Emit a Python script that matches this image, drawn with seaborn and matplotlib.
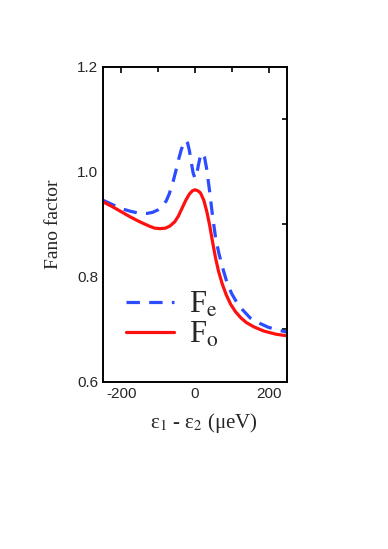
import matplotlib
matplotlib.use("Agg")
import matplotlib.pyplot as plt
import numpy as np
import pandas as pd
import seaborn as sns

# detuning eps1 - eps2 (ueV) and Fano factors
x_fo = [-250, -225, -200, -175, -150, -125, -110, -95, -80, -68, -55, -45, -35, -25,
        -15, -7, 0, 8, 15, 24, 32, 40, 48, 56, 64, 74, 85, 97, 110, 125, 140, 160,
        187, 220, 250]
f_o = [0.943, 0.934, 0.924, 0.914, 0.905, 0.897, 0.893, 0.892, 0.893, 0.897, 0.905,
       0.916, 0.931, 0.946, 0.958, 0.964, 0.966, 0.964, 0.960, 0.946, 0.925, 0.898,
       0.866, 0.836, 0.811, 0.787, 0.766, 0.748, 0.734, 0.722, 0.713, 0.705, 0.697,
       0.691, 0.688]

x_fe = [-250, -225, -200, -175, -150, -130, -115, -100, -88, -78, -70, -60, -52, -44,
        -37, -30, -25, -20, -15, -10, -5, 0, 4, 9, 14, 20, 26, 32, 40, 48, 56, 65,
        75, 88, 100, 115, 130, 150, 175, 200, 225, 250]
f_e = [0.946, 0.938, 0.930, 0.925, 0.921, 0.921, 0.923, 0.928, 0.935, 0.945, 0.958,
       0.980, 1.002, 1.025, 1.043, 1.055, 1.060, 1.055, 1.040, 1.018, 0.998, 0.988,
       0.992, 1.012, 1.028, 1.036, 1.028, 1.005, 0.962, 0.915, 0.875, 0.845, 0.818,
       0.787, 0.768, 0.750, 0.737, 0.722, 0.712, 0.704, 0.699, 0.695]

x_ticks = [-200, 0, 200]
y_ticks = [0.6, 0.8, 1.0, 1.2]

sns.set_style("white")
plt.rcParams["font.family"] = ["Liberation Serif", "DejaVu Serif"]
plt.rcParams["mathtext.fontset"] = "stix"

fig = plt.figure(figsize=(3.88, 5.49), dpi=100)
ax = fig.add_axes([0.2655, 0.3042, 0.474, 0.574])

blue = "#2b4cff"
red = "#ff1010"
sns.lineplot(x=x_fe, y=f_e, ax=ax, color=blue, lw=2.3, label=r"F$_{\mathrm{e}}$")
ax.lines[-1].set_dashes([4.2, 2.9])
sns.lineplot(x=x_fo, y=f_o, ax=ax, color=red, lw=2.3, label=r"F$_{\mathrm{o}}$")

ax.set_xlim(-250, 250)
ax.set_ylim(0.6, 1.2)
ax.set_xticks(x_ticks)
ax.set_yticks(y_ticks)
ax.set_xticks([-100, 100], minor=True)
ax.set_yticks([0.7, 0.9, 1.1], minor=True)
ax.set_xticklabels(["-200", "0", "200"], family="Liberation Sans", fontsize=11)
ax.set_yticklabels(["0.6", "0.8", "1.0", "1.2"], family="Liberation Sans", fontsize=11)
ax.tick_params(which="both", direction="in", top=True, right=True, color="black",
               width=1.2)
ax.tick_params(which="major", length=4.5)
ax.tick_params(which="minor", length=3.5)
ax.tick_params(axis="y", which="major", right=False)
for sp in ax.spines.values():
    sp.set_linewidth(1.4)
    sp.set_color("black")

ax.set_xlabel(r"ε$_1$ - ε$_2$ (μeV)", fontsize=15, labelpad=7, x=0.55)
ax.set_ylabel("Fano factor", fontsize=14)
ax.yaxis.set_label_coords(-0.223, 0.5)

ax.legend(loc="upper left", bbox_to_anchor=(0.06, 0.33), frameon=False, fontsize=22,
          handlelength=1.55, handletextpad=0.5, labelspacing=0.05, borderaxespad=0)

fig.savefig("out.png", dpi=100)
